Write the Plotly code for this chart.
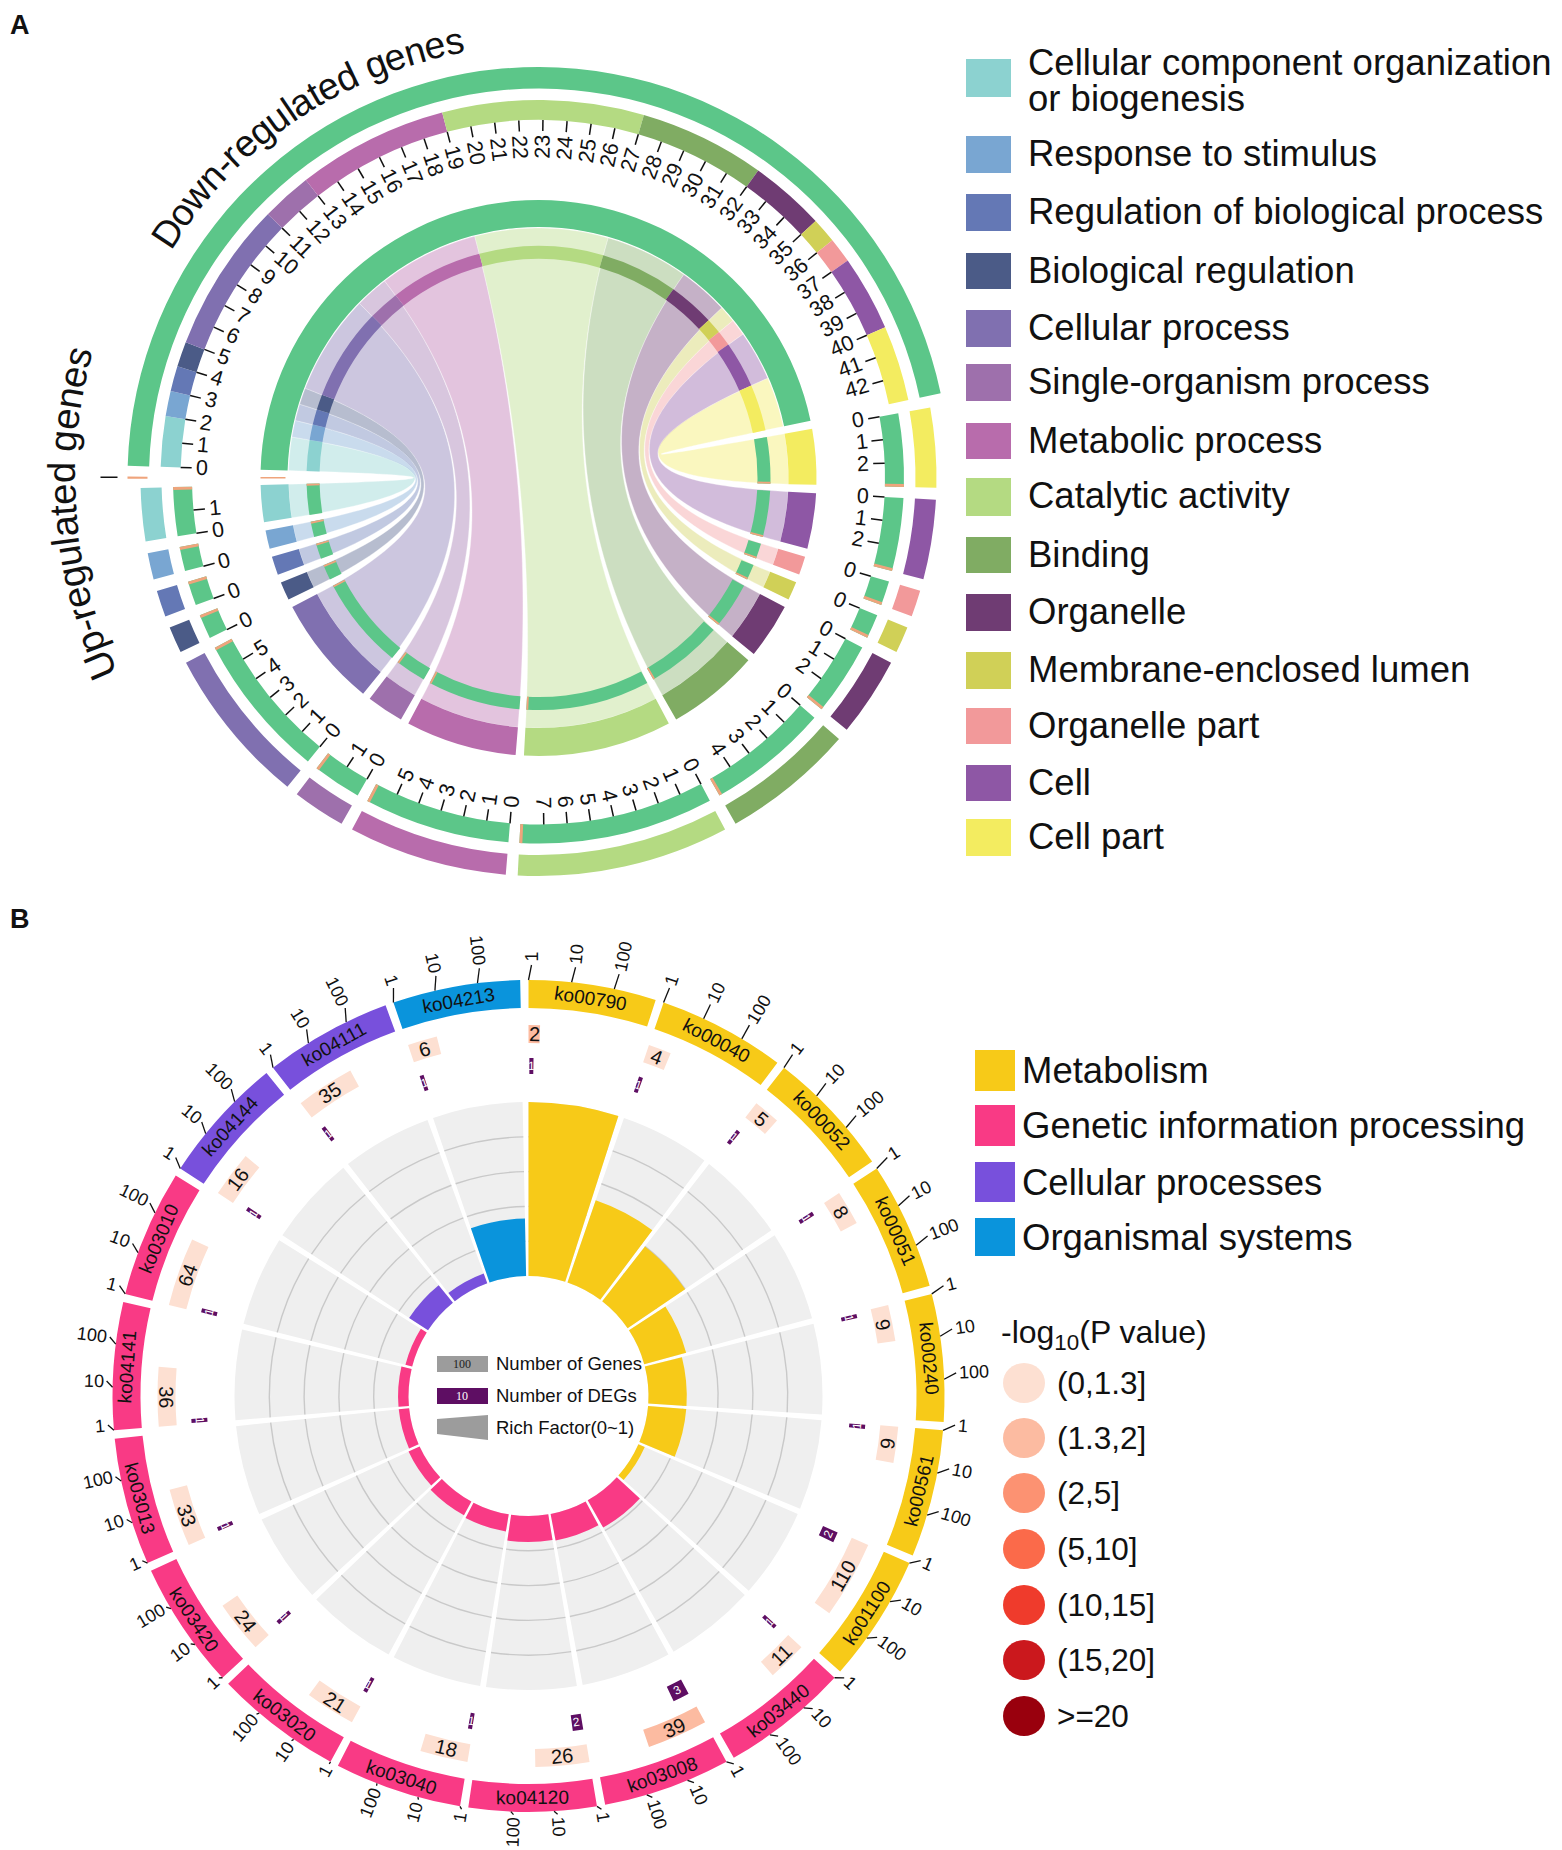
import math
import plotly.graph_objects as go

W, H = 1562, 1850
FONT = "Liberation Sans"

# ---------- Panel A data ----------
categories = ["Cellular component organization", "Response to stimulus", "Regulation of biological process",
              "Biological regulation", "Cellular process", "Single-organism process", "Metabolic process",
              "Catalytic activity", "Binding", "Organelle", "Membrane-enclosed lumen", "Organelle part",
              "Cell", "Cell part"]
down_counts = [2, 1, 1, 1, 6, 2, 6, 8, 5, 3, 1, 1, 3, 3]
up_counts = [0.12, 0.12, 0.12, 0.12, 0.12, 0.12, 0.12, 0.12, 0.12, 0.12, 0.12, 0.12, 0.12, 0.12]
cat_colors = ["#8CD2D0", "#79A6D2", "#6478B5", "#4B5B87", "#8070B0", "#9E70AC", "#B86CAC",
              "#B4DA82", "#80AC63", "#6F3C73", "#D0D057", "#F2999A", "#8E57A5", "#F3EC60"]
legend_a_labels = [["Cellular component organization", "or biogenesis"], ["Response to stimulus"],
                   ["Regulation of biological process"], ["Biological regulation"], ["Cellular process"],
                   ["Single-organism process"], ["Metabolic process"], ["Catalytic activity"], ["Binding"],
                   ["Organelle"], ["Membrane-enclosed lumen"], ["Organelle part"], ["Cell"], ["Cell part"]]
GREEN = "#5CC689"
ORANGE = "#EFA47C"

# ---------- Panel B data ----------
pathways = ["ko00790", "ko00040", "ko00052", "ko00051", "ko00240", "ko00561", "ko01100", "ko03440", "ko03008",
            "ko04120", "ko03040", "ko03020", "ko03420", "ko03013", "ko04141", "ko03010", "ko04144", "ko04111",
            "ko04213"]
pathway_class = [0, 0, 0, 0, 0, 0, 0, 1, 1, 1, 1, 1, 1, 1, 1, 1, 2, 2, 3]
gene_counts = [2, 4, 5, 8, 9, 9, 110, 11, 39, 26, 18, 21, 24, 33, 36, 64, 16, 35, 6]
deg_counts = [1, 1, 1, 1, 1, 1, 2, 1, 3, 2, 1, 1, 1, 1, 1, 1, 1, 1, 1]
rich_factor = [1.0, 0.50, 0.40, 0.25, 0.22, 0.22, 0.04, 0.18, 0.155, 0.15, 0.10, 0.09, 0.07, 0.06, 0.06, 0.04,
               0.13, 0.06, 0.33]
p_bin = [1, 0, 0, 0, 0, 0, 0, 0, 1, 0, 0, 0, 0, 0, 0, 0, 0, 0, 0]
class_names = ["Metabolism", "Genetic information processing", "Cellular processes", "Organismal systems"]
class_colors = ["#F7CA18", "#F93A85", "#7850DC", "#0A94DC"]
p_labels = ["(0,1.3]", "(1.3,2]", "(2,5]", "(5,10]", "(10,15]", "(15,20]", ">=20"]
p_colors = ["#FDE0D2", "#FCBBA1", "#FC9272", "#FB6A4A", "#EF3B2C", "#CB181D", "#99000D"]
scale_ticks = [1, 10, 100]

# ---------- geometry ----------
ACX, ACY, ARM = 538.5, 478.0, 445.0
BCX, BCY, BRM = 528.5, 1396.0, 440.0
U = 3.87
GAP = 1.72
TOP_START = -88.3
LOW_START = 79.8
SEC_STEP = 360.0 / 19
SEC_W = 17.8
DECADE = 5.95

annotations, shapes = [], []


def px(x):
    return x / W


def py(y):
    return 1 - y / H


def pol(cx, cy, r, a):
    t = math.radians(a)
    return cx + r * math.sin(t), cy - r * math.cos(t)


def text(x, y, s, size, angle=0, color="#111111", anchor="center", family=FONT, bold=False):
    annotations.append(dict(x=px(x), y=py(y), xref="paper", yref="paper", text=f"<b>{s}</b>" if bold else s,
                            showarrow=False, textangle=angle, xanchor=anchor, yanchor="middle", borderpad=0,
                            font=dict(family=family, size=size, color=color)))


def radial_angle(a):
    a = a % 360
    return a - 90 if a < 180 else a - 270


def domain(cx, cy, rm):
    return dict(x=[px(cx - rm), px(cx + rm)], y=[py(cy + rm), py(cy - rm)])


def polar_layout(cx, cy, rm):
    return dict(domain=domain(cx, cy, rm), bgcolor="rgba(0,0,0,0)", barmode="overlay",
                radialaxis=dict(visible=False, range=[0, rm]),
                angularaxis=dict(visible=False, direction="clockwise", rotation=90, thetaunit="degrees"))


class Bars:
    def __init__(self):
        self.t, self.w, self.b, self.r, self.c = [], [], [], [], []

    def add(self, a1, a2, r1, r2, color):
        self.t.append(((a1 + a2) / 2) % 360)
        self.w.append(a2 - a1)
        self.b.append(r1)
        self.r.append(r2 - r1)
        self.c.append(color)

    def trace(self, subplot):
        return go.Barpolar(theta=self.t, width=self.w, base=self.b, r=self.r, subplot=subplot,
                           marker=dict(color=self.c, line=dict(width=0)), hoverinfo="skip", showlegend=False)


fig = go.Figure()

# ---------- Panel A ----------
n = len(categories)
total = sum(down_counts)
top_rng, pos = [], 0
for c in down_counts:
    top_rng.append((TOP_START + pos * U, TOP_START + (pos + c) * U))
    pos += c
low_rng = [None] * n
a = LOW_START
for i in reversed(range(n)):
    low_rng[i] = (a, a + down_counts[i] * U)
    a += down_counts[i] * U + GAP

R_RIB = 250.0


def arc(a1, a2, r, steps=24):
    return [(r * math.sin(math.radians(a1 + (a2 - a1) * k / steps)),
             r * math.cos(math.radians(a1 + (a2 - a1) * k / steps))) for k in range(steps + 1)]


def bez(p0, p2, steps=48):
    out = []
    for k in range(steps + 1):
        t = k / steps
        out.append(((1 - t) ** 2 * p0[0] + t ** 2 * p2[0], (1 - t) ** 2 * p0[1] + t ** 2 * p2[1]))
    return out


def hex_rgba(h, al):
    return f"rgba({int(h[1:3], 16)},{int(h[3:5], 16)},{int(h[5:7], 16)},{al})"


for i in range(n):
    a1, a2 = top_rng[i]
    b1, b2 = low_rng[i]
    top_arc = arc(a1, a2, R_RIB)
    low_arc = arc(b1, b2, R_RIB)
    pts = top_arc + bez(top_arc[-1], low_arc[0]) + low_arc + bez(low_arc[-1], top_arc[0])
    fig.add_trace(go.Scatterpolar(r=[math.hypot(*p) for p in pts],
                                  theta=[math.degrees(math.atan2(p[0], p[1])) for p in pts],
                                  mode="lines", line=dict(width=0.7, color="rgba(255,255,255,0.45)"), fill="toself",
                                  fillcolor=hex_rgba(cat_colors[i], 0.4), subplot="polar",
                                  hoverinfo="skip", showlegend=False))

bars_a = Bars()
t0, t1 = TOP_START, TOP_START + total * U
bars_a.add(t0, t1, 389.5, 411, GREEN)
bars_a.add(t0, t1, 251, 278, GREEN)
for i in range(n):
    a1, a2 = top_rng[i]
    bars_a.add(a1, a2, 358, 378, cat_colors[i])
    bars_a.add(a1, a2, 219, 232, cat_colors[i])
    b1, b2 = low_rng[i]
    strip = up_counts[i] * U
    bars_a.add(b1, b2, 377, 398, cat_colors[i])
    bars_a.add(b1, b2, 346.5, 365.5, GREEN)
    bars_a.add(b2 - strip, b2, 346.5, 365.5, ORANGE)
    bars_a.add(b1, b2, 250, 278, cat_colors[i])
    bars_a.add(b1, b2, 219, 232, GREEN)
    bars_a.add(b2 - strip, b2, 219, 232, ORANGE)
bars_a.add(269.9, 270.2, 391, 411, ORANGE)
bars_a.add(269.9, 270.2, 253, 278, ORANGE)
fig.add_trace(bars_a.trace("polar2"))

tr, tt = [], []
for k in range(total):
    ang = TOP_START + k * U
    tr += [358, 347, None]
    tt += [ang, ang, None]
    s = str(k)
    w = 12 * len(s)
    x, y = pol(ACX, ACY, 343 - w / 2, ang)
    text(x, y, s, 21.5, radial_angle(ang))
for i in range(n):
    b1 = low_rng[i][0]
    for k in range(down_counts[i]):
        ang = b1 + k * U
        tr += [346.5, 335, None]
        tt += [ang, ang, None]
        x, y = pol(ACX, ACY, 325, ang)
        text(x, y, str(k), 21.5, radial_angle(ang))
tr += [421, 438, None]
tt += [270.1, 270.1, None]
fig.add_trace(go.Scatterpolar(r=tr, theta=tt, mode="lines", line=dict(color="#111111", width=1.5),
                              subplot="polar2", hoverinfo="skip", showlegend=False))

CW = {"D": .722, "U": .722, "o": .556, "w": .722, "n": .556, "-": .333, "r": .333, "e": .556, "g": .556, "u": .556,
      "l": .222, "a": .556, "t": .278, "d": .556, " ": .278, "s": .5, "p": .556}


def curved(s, r, mid, fs):
    tot = sum(CW[c] for c in s) * fs
    run = 0
    for c in s:
        w = CW[c] * fs
        ang = mid + (run + w / 2 - tot / 2) / r * 180 / math.pi
        run += w
        if c != " ":
            x, y = pol(ACX, ACY, r, ang)
            text(x, y, c, fs, ang)


curved("Down-regulated genes", 445, -34, 37.5)
curved("Up-regulated genes", 477, 265.5, 38.5)

legend_a_y = [(59, 97), (136, 173), (194, 231), (253, 289), (310, 347), (364, 401), (423, 459),
              (478, 516), (537, 573), (594, 631), (652, 689), (708, 744), (765, 801), (819, 856)]
for i in range(n):
    y0, y1 = legend_a_y[i]
    shapes.append(dict(type="rect", xref="paper", yref="paper", x0=px(966), x1=px(1011), y0=py(y1), y1=py(y0),
                       fillcolor=cat_colors[i], line=dict(width=0)))
    lines = legend_a_labels[i]
    if len(lines) == 2:
        text(1027, 63, lines[0], 36.5, anchor="left")
        text(1027, 98, lines[1], 36.5, anchor="left")
    else:
        text(1027, (y0 + y1) / 2 - 1, lines[0], 36.5, anchor="left")

text(20, 25, "A", 27, bold=True)
text(20, 919, "B", 27, bold=True)

# ---------- Panel B ----------
R0, R1 = 120.0, 294.0
track = Bars()
for k in range(19):
    s = k * SEC_STEP
    track.add(s, s + SEC_W, R0, R1, "#EFEFEF")
for k in range(19):
    s = k * SEC_STEP
    for g in (0.2, 0.4, 0.6, 0.8):
        rg = R0 + g * (R1 - R0)
        track.add(s, s + SEC_W, rg - 0.7, rg + 0.7, "#C9C9C9")
for k in range(19):
    s = k * SEC_STEP
    col = class_colors[pathway_class[k]]
    track.add(s, s + SEC_W, R0, R0 + rich_factor[k] * (R1 - R0), col)
    track.add(s, s + SEC_W, 388, 416, col)
    gw = math.log10(gene_counts[k]) * DECADE
    track.add(s, s + gw, 353, 371, p_colors[p_bin[k]])
    dw = max(math.log10(deg_counts[k]) * DECADE, 0.7)
    track.add(s + 0.15, s + 0.15 + dw, 322, 338, "#5E0E63")
fig.add_trace(track.trace("polar3"))


def tang(a):
    a = a % 360
    return a - 180 if 90 < a < 270 else (a if a < 180 else a - 360)


tr, tt = [], []
for k in range(19):
    s = k * SEC_STEP
    mid = s + SEC_W / 2
    x, y = pol(BCX, BCY, 402, mid)
    text(x, y, pathways[k], 19, tang(mid))
    for v in scale_ticks:
        ang = s + math.log10(v) * DECADE
        ex, ey = pol(BCX + 3, BCY - 6, 425, ang)
        tr += [416, math.hypot(ex - BCX, ey - BCY), None]
        tt += [ang, math.degrees(math.atan2(ex - BCX, BCY - ey)), None]
        lab = str(v)
        x, y = pol(BCX + 3, BCY - 6, 428 + len(lab) * 10 / 2, ang)
        text(x, y, lab, 18, radial_angle(ang))
    gw = math.log10(gene_counts[k]) * DECADE
    dw = max(math.log10(deg_counts[k]) * DECADE, 0.7)
    x, y = pol(BCX, BCY, 362, s + gw / 2)
    text(x, y, str(gene_counts[k]), 20, tang(s + gw / 2))
    x, y = pol(BCX, BCY, 330, s + 0.15 + dw / 2)
    text(x, y, str(deg_counts[k]), 12, tang(s + dw / 2), color="#FFFFFF")
fig.add_trace(go.Scatterpolar(r=tr, theta=tt, mode="lines", line=dict(color="#111111", width=1.3),
                              subplot="polar3", hoverinfo="skip", showlegend=False))

# centre legend
shapes.append(dict(type="rect", xref="paper", yref="paper", x0=px(437), x1=px(488), y0=py(1372), y1=py(1356),
                   fillcolor="#9C9C9C", line=dict(width=0)))
text(462.5, 1364, "100", 12, color="#222222", family="Liberation Serif")
text(495, 1363, "Number of Genes", 18.5, anchor="left")
shapes.append(dict(type="rect", xref="paper", yref="paper", x0=px(437), x1=px(488), y0=py(1404), y1=py(1388),
                   fillcolor="#5E0E63", line=dict(width=0)))
text(462.5, 1396, "10", 12, color="#FFFFFF", family="Liberation Serif")
text(495, 1395, "Number of DEGs", 18.5, anchor="left")
shapes.append(dict(type="path", xref="paper", yref="paper",
                   path=f"M {px(437)} {py(1419)} L {px(488)} {py(1415)} L {px(488)} {py(1440)} L {px(437)} {py(1434)} Z",
                   fillcolor="#9C9C9C", line=dict(width=0)))
text(495, 1427, "Rich Factor(0~1)", 18.5, anchor="left")

# class legend
legend_b_y = [(1050, 1091), (1105, 1146), (1162, 1202), (1218, 1256)]
for name, col, (y0, y1) in zip(class_names, class_colors, legend_b_y):
    shapes.append(dict(type="rect", xref="paper", yref="paper", x0=px(975), x1=px(1015), y0=py(y1), y1=py(y0),
                       fillcolor=col, line=dict(width=0)))
    text(1021, (y0 + y1) / 2, name, 36.5, anchor="left")

# p-value legend
text(1000, 1334, "-log<sub>10</sub>(P value)", 32, anchor="left")
p_rows = [1383, 1438, 1493, 1549, 1605, 1660, 1716]
for lab, col, yc in zip(p_labels, p_colors, p_rows):
    shapes.append(dict(type="circle", xref="paper", yref="paper", x0=px(1003), x1=px(1045), y0=py(yc + 20),
                       y1=py(yc - 20), fillcolor=col, line=dict(width=0)))
    text(1056, yc, lab, 31.5, anchor="left")

fig.update_layout(width=W, height=H, margin=dict(l=0, r=0, t=0, b=0, pad=0), autosize=False, paper_bgcolor="white",
                  plot_bgcolor="white", showlegend=False, annotations=annotations, shapes=shapes,
                  polar=polar_layout(ACX, ACY, ARM), polar2=polar_layout(ACX, ACY, ARM),
                  polar3=polar_layout(BCX, BCY, BRM), font=dict(family=FONT))
fig.write_html("out.html", post_script="document.body.style.margin='0';", config=dict(displayModeBar=False))
